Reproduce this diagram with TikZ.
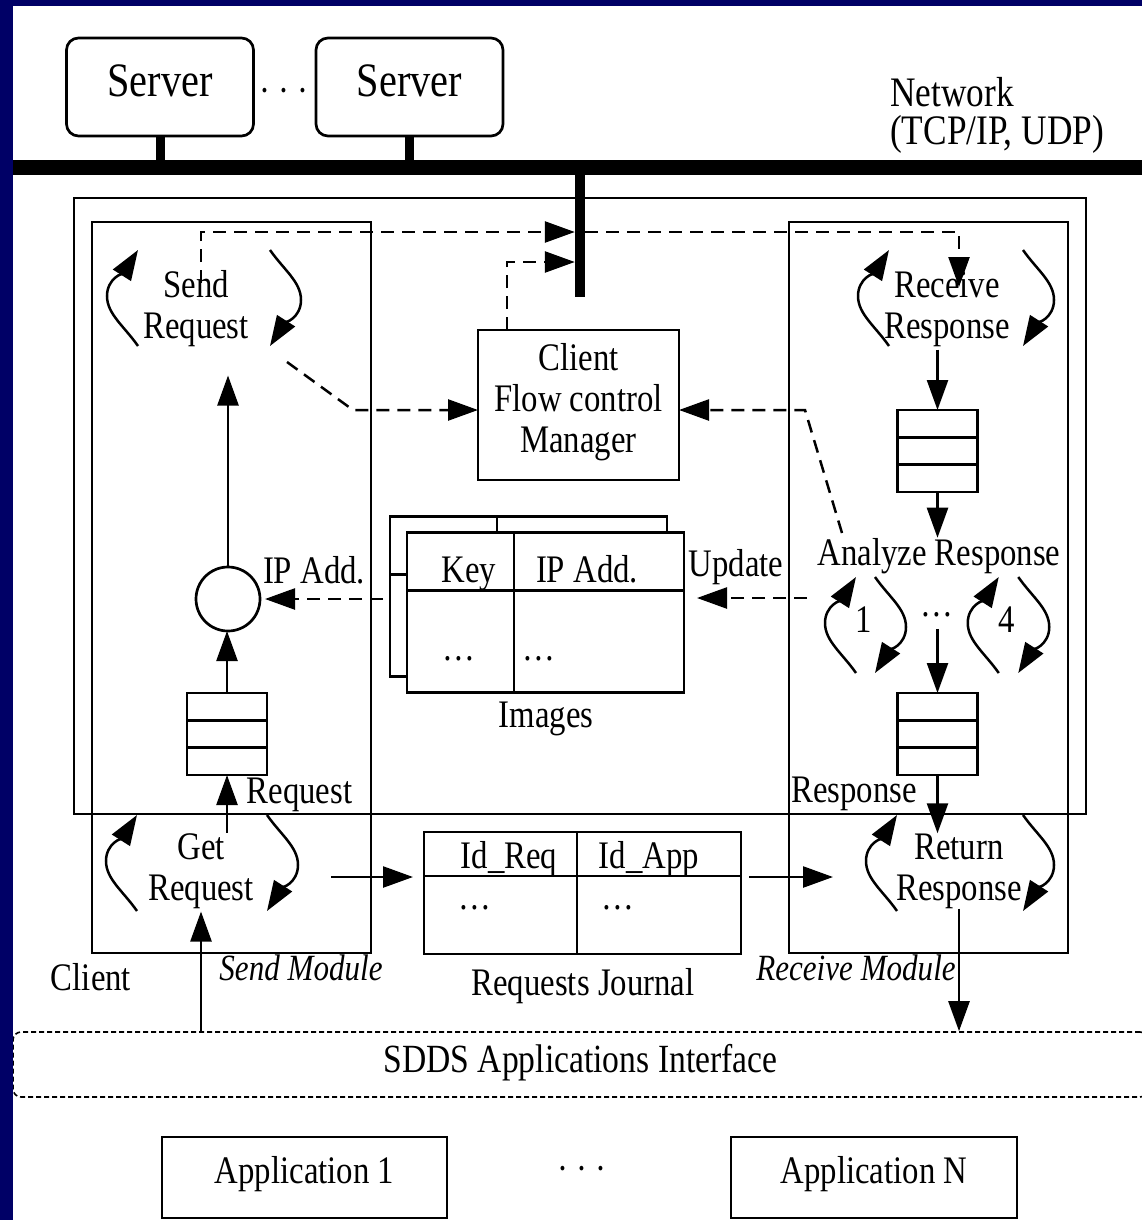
\documentclass[tikz,border=0pt]{standalone}
\usepackage{fontspec}
\setmainfont[FakeStretch=0.84]{Liberation Serif}
\usetikzlibrary{arrows.meta,calc,positioning}

\definecolor{slidenavy}{RGB}{0,0,102}

\tikzset{
  box/.style={draw, line width=2.7, inner sep=0, outer sep=0},
  arr/.style={line width=2.5, -{Triangle[length=30pt,width=21pt]}},
  dasharr/.style={arr, dash pattern=on 13pt off 8pt},
  lbl/.style={inner sep=0, anchor=base},
  queue/.style={box, minimum width=80, minimum height=82,
    path picture={\foreach \f in {1,2}
      \draw[line width=2.7] ($(path picture bounding box.north west)!\f/3!(path picture bounding box.south west)$) -- ++(100,0);}},
}

% two curved arrows round a step: centre, half gap
\newcommand\cyclearrows[2]{%
  \begin{scope}[shift={#1}]
    \draw[arr] (-#2,48) .. controls (-#2-14,28) and (-#2-31,16) .. (-#2-31,-2)
                        .. controls (-#2-31,-20) and (-#2-14,-26) .. (-#2,-48);
    \draw[arr] (#2,-48) .. controls (#2+14,-28) and (#2+31,-16) .. (#2+31,2)
                        .. controls (#2+31,20) and (#2+14,26) .. (#2,48);
  \end{scope}}

\begin{document}
\begin{tikzpicture}[x=1pt,y=-1pt,font=\fontsize{39}{41}\selectfont]
\useasboundingbox (0,0) rectangle (1142,1220);
\fill[slidenavy] (0,0) rectangle (1142,1220);
\fill[white] (13,6) rectangle (1142,1220);
\begin{scope}
\clip (13,6) rectangle (1142,1220);

% servers and network
\node[box, rounded corners=12, minimum width=187, minimum height=98,
      font=\fontsize{48}{50}\selectfont, text depth=12pt] (srvA) at (160,87) {Server};
\node[box, rounded corners=12, minimum width=187, minimum height=98,
      font=\fontsize{48}{50}\selectfont, text depth=12pt] (srvB) at (409.5,87) {Server};
\node[lbl] (srvdots) at (284,104) {\textperiodcentered\ \textperiodcentered\ \textperiodcentered};
\node[lbl, anchor=base west, align=left, font=\fontsize{42}{39}\selectfont] (net) at (890,145) {Network\\(TCP/IP, UDP)};
\coordinate (busW) at (13,167.5);
\coordinate (busE) at (1142,167.5);
\draw[line width=15] (busW) -- (busE);
\draw[line width=9] (srvA.south) -- (srvA.south |- busW);
\draw[line width=9] (srvB.south) -- (srvB.south |- busW);
\node[fill, inner sep=0, minimum width=10, minimum height=122] (tap) at (580,236) {};

% client and its two modules
\node[box, minimum width=1012, minimum height=616] (client) at (580,506) {};
\node[box, minimum width=279, minimum height=731] (sendmod) at (231.5,587.5) {};
\node[box, minimum width=279, minimum height=731] (recvmod) at (928.5,587.5) {};
\node[box, minimum width=201, minimum height=150, align=center, text depth=14pt] (fcm) at (578.5,405) {Client\\Flow control\\Manager};

% send side
\node[lbl, align=center] (sendreq) at (196,338) {Send\\Request};
\node[box, circle, minimum size=64] (dec) at (228,599) {};
\node[lbl] (ipadd) at (314,583) {IP Add.};
\node[queue] (qreq) at (227,734) {};
\node[lbl] (reqlbl) at (299.5,803) {Request};
\node[lbl, align=center] (getreq) at (201,900) {Get\\Request};

% receive side
\node[lbl, align=center] (recvresp) at (947,338) {Receive\\Response};
\node[queue] (qin) at (937.5,451) {};
\node[lbl] (analyze) at (939,565) {Analyze Response};
\node[lbl] (one) at (864,632) {1};
\node[lbl] (andots) at (937,616) {\dots};
\node[lbl] (four) at (1007,632) {4};
\node[queue] (qout) at (937.5,734) {};
\node[lbl] (resplbl) at (854,802) {Response};
\node[lbl, align=center] (retresp) at (959,900) {Return\\Response};
\node[lbl] (upd) at (736,576) {Update};

% images table
\node[box, fill=white, minimum width=277, minimum height=160] (imgB) at (528.5,596.5) {};
\draw[line width=2.7] ([yshift=-58pt]imgB.north west) -- ([yshift=-58pt]imgB.north east);
\draw[line width=2.7] ([xshift=107pt]imgB.north west) -- ([xshift=107pt]imgB.south west);
\node[box, fill=white, minimum width=277, minimum height=160] (imgF) at (545.5,612.5) {};
\draw[line width=2.7] ([yshift=-58pt]imgF.north west) -- ([yshift=-58pt]imgF.north east);
\draw[line width=2.7] ([xshift=107pt]imgF.north west) -- ([xshift=107pt]imgF.south west);
\node[lbl] (key) at (469,582) {Key};
\node[lbl] (ipcol) at (587,582) {IP Add.};
\node[lbl] (imgdotsA) at (459,660) {\dots};
\node[lbl] (imgdotsB) at (539,660) {\dots};
\node[lbl] (imglbl) at (546,727) {Images};

% requests journal
\node[box, minimum width=317, minimum height=122] (jrn) at (582.5,893) {};
\draw[line width=2.7] ([yshift=-44pt]jrn.north west) -- ([yshift=-44pt]jrn.north east);
\draw[line width=2.7] ([xshift=153pt]jrn.north west) -- ([xshift=153pt]jrn.south west);
\node[lbl] (idreq) at (509,868) {Id\_Req};
\node[lbl] (idapp) at (649,868) {Id\_App};
\node[lbl] (jrndotsA) at (475,909) {\dots};
\node[lbl] (jrndotsB) at (618,909) {\dots};
\node[lbl] (jrnlbl) at (583,995) {Requests Journal};

\node[lbl] (clientlbl) at (91,990) {Client};
\node[lbl, font=\fontsize{37}{40}\selectfont\itshape] (sendlbl) at (301,980) {Send Module};
\node[lbl, font=\fontsize{37}{40}\selectfont\itshape] (recvlbl) at (856,980) {Receive Module};

% interface and applications
\node[draw, line width=1.6, dash pattern=on 5pt off 3pt, rounded corners=8, inner sep=0,
      minimum width=1135, minimum height=65, font=\fontsize{40}{41}\selectfont,
      text depth=13pt] (iface) at (580.5,1064.5) {SDDS Applications Interface};
\node[box, minimum width=285, minimum height=81, text depth=15pt] (app1) at (304.5,1177.5) {Application 1};
\node[lbl] (appdots) at (582,1181) {\textperiodcentered\ \textperiodcentered\ \textperiodcentered};
\node[box, minimum width=286, minimum height=81, text depth=15pt] (appN) at (874,1177.5) {Application N};

% solid flow
\draw[arr, shorten >=29] (dec.north) -- (dec.north |- sendreq.south);
\draw[arr] (qreq.north) -- (qreq.north |- dec.south);
\draw[arr] (qreq.south |- getreq.north) -- (qreq.south);
\draw[arr, shorten >=3] (getreq.south |- iface.north) -- (getreq.south);
\coordinate (gr-out) at (331,877);
\draw[arr, shorten >=11] (gr-out) -- (gr-out -| jrn.west);
\coordinate (ret-in) at (833,877);
\draw[arr, shorten <=8] (jrn.east |- ret-in) -- (ret-in);
\draw[arr, shorten <=3] (qin.north |- recvresp.south) -- (qin.north);
\draw[arr] (qin.south) -- (qin.south |- analyze.north);
\draw[arr, shorten <=12] (andots.south -| qout.north) -- (qout.north);
\draw[arr] (qout.south) -- (qout.south |- retresp.north);
\draw[arr] (retresp.south) -- (retresp.south |- iface.north);

% dashed control flow
\coordinate (lvlA) at (0,232);
\coordinate (lvlB) at (0,262);
\coordinate (sr-up) at (201,283);
\draw[dasharr] (sr-up) |- (tap.west |- lvlA);
\coordinate (rr-in) at (959,287);
\draw[dasharr] (tap.east |- lvlA) -| (rr-in);
\draw[dasharr] ([xshift=29pt]fcm.north west) |- (tap.west |- lvlB);
\coordinate (sr-out) at (287,362);
\draw[dasharr] (sr-out) -- ++(66,48) -- ([yshift=-5pt]fcm.west);
\coordinate (an-out) at (842,533);
\draw[dasharr] (an-out) -- ++(-37,-123) -- ([yshift=-5pt]fcm.east);
\draw[dasharr, shorten <=7, shorten >=5] (dec.east -| imgB.west) -- (dec.east);
\coordinate (an-upd) at (807,598);
\draw[dasharr, shorten >=13] (an-upd) -- (an-upd -| imgF.east);

% processing cycles
\cyclearrows{(204,298)}{66}
\cyclearrows{(956,298)}{67}
\cyclearrows{(202,863)}{65}
\cyclearrows{(960,863)}{63}
\cyclearrows{(865.5,625)}{9.5}
\cyclearrows{(1008.5,625)}{9.75}
\end{scope}
\end{tikzpicture}
\end{document}
